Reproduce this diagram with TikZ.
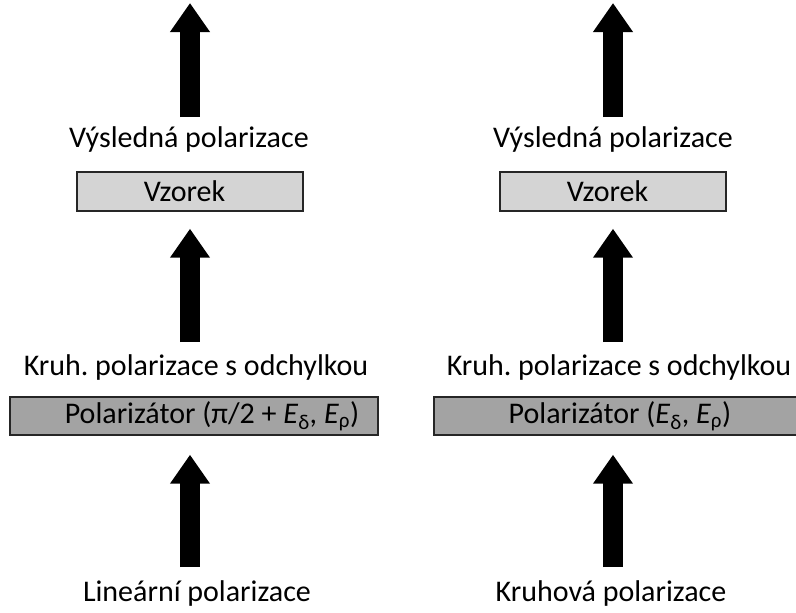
\documentclass[tikz,border=0pt]{standalone}
\usepackage{fontspec}
\setmainfont{Carlito}
\usetikzlibrary{arrows.meta}
\frenchspacing
\begin{document}
\begin{tikzpicture}[x=1pt,y=-1pt,
  label/.style={inner sep=0pt, font=\fontsize{30}{34}\selectfont},
  samplebox/.style={draw=black!85, line width=1.4pt, fill=black!17,
    minimum width=226pt, minimum height=39pt, inner sep=0pt,
    font=\fontsize{30}{34}\selectfont},
  polbox/.style={draw=black!85, line width=1.4pt, fill=black!36,
    minimum width=368pt, minimum height=38pt, inner sep=0pt,
    font=\fontsize{30}{34}\selectfont},
  bigarrow/.style={line width=20pt,
    -{Triangle[length=29pt 0 0, width=38pt 0 0]}}]
\useasboundingbox (0,0) rectangle (796,613);
\clip (0,0) rectangle (796,613);

% arrow axes of the two branches
\coordinate (topL) at (190,3);
\coordinate (topR) at (613,3);

% left branch: linear input
\node[label] (linL) at (197,593) {Lineární polarizace};
\node[polbox] (polL) at (194,416) {\hspace*{36pt}Polarizátor (π/2 + \textit{E}\textsubscript{δ}, \textit{E}\textsubscript{ρ})};
\node[label] (kruhL) at (196,367) {Kruh. polarizace s odchylkou};
\node[samplebox] (vzL) at (190,191.5) {Vzorek\hspace*{11pt}};
\node[label] (resL) at (189,140) {Výsledná polarizace};

% right branch: circular input
\node[label] (linR) at (611,593) {Kruhová polarizace};
\node[polbox] (polR) at (618,416) {\hspace*{4pt}Polarizátor (\textit{E}\textsubscript{δ}, \textit{E}\textsubscript{ρ})};
\node[label] (kruhR) at (619,367) {Kruh. polarizace s odchylkou};
\node[samplebox] (vzR) at (613,191.5) {Vzorek\hspace*{11pt}};
\node[label] (resR) at (613,140) {Výsledná polarizace};

% block arrows
\draw[bigarrow] ([yshift=26pt]linL.center -| topL) -- ([yshift=-19pt]polL.south -| topL);
\draw[bigarrow] ([yshift=25pt]kruhL.center -| topL) -- ([yshift=-17pt]vzL.south -| topL);
\draw[bigarrow] ([yshift=23pt]resL.center -| topL) -- (topL);

\draw[bigarrow] ([yshift=26pt]linR.center -| topR) -- ([yshift=-19pt]polR.south -| topR);
\draw[bigarrow] ([yshift=25pt]kruhR.center -| topR) -- ([yshift=-17pt]vzR.south -| topR);
\draw[bigarrow] ([yshift=23pt]resR.center -| topR) -- (topR);
\end{tikzpicture}
\end{document}
